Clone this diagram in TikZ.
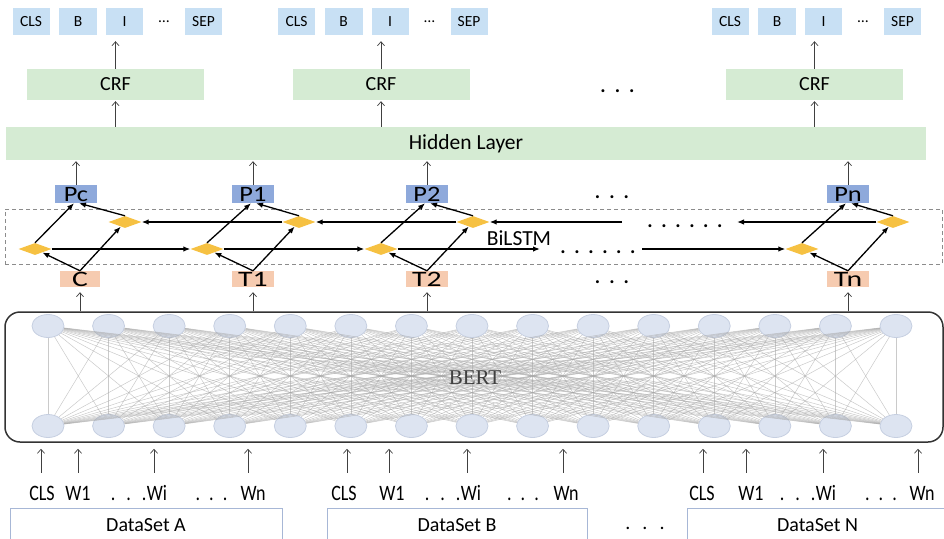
\documentclass[tikz,border=0pt]{standalone}
\usepackage{fontspec}
\setmainfont{Carlito}
\newfontfamily\botfont[FakeStretch=0.82]{Carlito}
\newfontfamily\wtfont[FakeStretch=1.35]{Carlito}
\newfontfamily\wpfont[FakeStretch=1.2]{Carlito}
\newfontfamily\bertfont{Liberation Serif}
\usetikzlibrary{shapes.geometric,arrows.meta}
\definecolor{topblue}{HTML}{C8E0F4}
\definecolor{lgreen}{HTML}{D5EBD3}
\definecolor{pblue}{HTML}{8EA9DB}
\definecolor{tsalmon}{HTML}{F6CBB0}
\definecolor{gold}{HTML}{F6C142}
\definecolor{nfill}{HTML}{DDE4F1}
\definecolor{ndraw}{HTML}{C6CFE1}
\definecolor{dsline}{HTML}{A7B7D6}
\newcommand{\spdots}[1]{.\hspace{#1}.\hspace{#1}.}
\newcommand{\sixdots}[1]{.\hspace{#1}.\hspace{#1}.\hspace{#1}.\hspace{#1}.\hspace{#1}.}
\begin{document}
\begin{tikzpicture}[x=1pt,y=-1pt,
  tlab/.style={fill=topblue, minimum width=37pt, minimum height=27pt, inner sep=0pt, font=\fontsize{15.5}{18}\selectfont},
  gbox/.style={fill=lgreen, inner sep=0pt, font=\fontsize{20}{24}\selectfont},
  pbox/.style={fill=pblue, minimum width=42pt, minimum height=18pt, inner sep=0pt, font=\wpfont\fontsize{22}{24}\selectfont, text height=15pt, text depth=0pt},
  tbox/.style={fill=tsalmon, minimum width=42pt, minimum height=16pt, inner sep=0pt, font=\wtfont\fontsize{22}{24}\selectfont, text height=15pt, text depth=0pt},
  dia/.style={diamond, fill=gold, minimum width=33pt, minimum height=12pt, inner sep=0pt},
  barrow/.style={line width=1.3pt, -{Latex[length=7pt,width=5.5pt]}},
  tarrow/.style={line width=0.7pt, draw=black!75, -{Straight Barb[length=4pt,width=7pt]}},
  blab/.style={font=\botfont\fontsize{22}{24}\selectfont, inner sep=0pt, anchor=base, text height=14pt, text depth=0pt},
  dotf/.style={font=\bfseries\fontsize{20}{24}\selectfont, inner sep=0pt, anchor=base},
  bnode/.style={ellipse, fill=nfill, draw=ndraw, line width=0.8pt, minimum width=32pt, minimum height=23pt, inner sep=0pt},
  bline/.style={draw=black!35, line width=0.5pt, opacity=0.6},
  dsbox/.style={draw=dsline, line width=0.8pt, minimum height=34pt, inner sep=0pt, font=\fontsize{20}{24}\selectfont, text height=13pt, text depth=0pt}
]
\useasboundingbox (0,0) rectangle (944,538);

% top tag rows and CRF
\foreach \s/\o in {A/0,B/265.5,N/699}{
  \node[tlab] (cls\s) at (31+\o,21.5) {CLS};
  \node[tlab, minimum width=38pt] (tagb\s) at (78+\o,21.5) {B};
  \node[tlab] (tagi\s) at (124.5+\o,21.5) {I};
  \node[inner sep=0pt, font=\fontsize{15.5}{18}\selectfont] (ell\s) at (164+\o,21.5) {…};
  \node[tlab] (sep\s) at (203.5+\o,21.5) {SEP};
  \node[gbox, minimum width=177pt, minimum height=31pt] (crf\s) at (115.5+\o,84.5) {CRF};
}
\node[gbox, minimum width=920pt, minimum height=33pt, font=\fontsize{21.5}{24}\selectfont] (hidden) at (466,143.5) {Hidden Layer};
\foreach \s in {A,B,N}{
  \draw[tarrow, shorten >=6pt] (crf\s.north) -- (crf\s.north |- tagi\s.south);
  \draw[tarrow, shorten >=1pt] (crf\s.south |- hidden.north) -- (crf\s.south);
}
\node[dotf] (dcrf) at (617.5,92) {\spdots{9pt}};

% BiLSTM block
\node[draw=black!45, dash pattern=on 4pt off 3pt, line width=1pt, minimum width=937pt, minimum height=55pt, inner sep=0pt] (lstmbox) at (473.5,236.5) {};
\node[pbox] (pC) at (76,194) {Pc};
\node[pbox] (p1) at (253,194) {P1};
\node[pbox] (p2) at (427,194) {P2};
\node[pbox] (pN) at (848,194) {Pn};
\node[tbox, minimum width=40pt] (tkC) at (80,279) {C};
\node[tbox] (tk1) at (253,279) {T1};
\node[tbox] (tk2) at (427,279) {T2};
\node[tbox] (tkN) at (848,279) {Tn};
\node[dia] (dlC) at (35,249) {};
\node[dia] (duC) at (125,222) {};
\node[dia] (dl1) at (207,249) {};
\node[dia] (du1) at (299,222) {};
\node[dia] (dl2) at (381,249) {};
\node[dia] (du2) at (473,222) {};
\node[dia] (dlN) at (802,249) {};
\node[dia] (duN) at (893,222) {};
\node[font=\fontsize{21.5}{24}\selectfont, inner sep=0pt] (bilstm) at (519,238) {BiLSTM};
\node[dotf] (dpr) at (612,198) {\spdots{9pt}};
\node[dotf] (dtr) at (612,283) {\spdots{9pt}};
\node[dotf] (dlow) at (598,253) {\sixdots{8.6pt}};
\node[dotf] (dup) at (685,227) {\sixdots{8.6pt}};

\foreach \p in {pC,p1,p2,pN}{
  \draw[tarrow, shorten >=1pt] (\p.north) -- (\p.north |- hidden.south);
}
\foreach \k in {C,1,2,N}{
  \draw[barrow] (tk\k.north) -- (dl\k);
  \draw[barrow] (tk\k.north) -- (du\k);
  \draw[barrow] (dl\k.north) -- ([xshift=-2pt]p\k.south);
  \draw[barrow] (du\k.north) -- ([xshift=3pt]p\k.south);
}
\coordinate (lend) at (540,249);
\coordinate (lstart) at (642,249);
\coordinate (uend) at (737,222);
\coordinate (ustart) at (622,222);
\draw[barrow] (dlC.east) -- (dl1.west);
\draw[barrow] (dl1.east) -- (dl2.west);
\draw[barrow] (dl2.east) -- (lend);
\draw[barrow] (lstart) -- (dlN.west);
\draw[barrow] (duN.west) -- (uend);
\draw[barrow] (ustart) -- (du2.east);
\draw[barrow] (du2.west) -- (du1.east);
\draw[barrow] (du1.west) -- (duC.east);

% BERT
\node[draw=black!80, line width=1.5pt, rounded corners=15pt, minimum width=938pt, minimum height=130pt, inner sep=0pt] (bert) at (474,377) {};
\foreach \i in {1,...,15}{
  \node[bnode] (bt\i) at ({48+(\i-1)*60.57},326) {};
  \node[bnode] (bb\i) at ({48+(\i-1)*60.57},426) {};
}
\foreach \i in {1,...,15}{\foreach \j in {1,...,15}{\draw[bline] (bt\i) -- (bb\j);}}
\node[font=\bertfont\fontsize{21}{24}\selectfont, text=black!75, inner sep=0pt] (bertlbl) at (475,378) {BERT};
\foreach \k in {C,1,2,N}{
  \draw[tarrow, shorten >=5pt] (tk\k.south |- bert.north) -- (tk\k.south);
}

% inputs
\node[blab] (clsinA) at (42,500) {CLS};
\node[blab] (w1A) at (78,500) {W1};
\node[blab] (wiA) at (157,500) {Wi};
\node[blab, anchor=base east] (wdA) at (wiA.base west) {\spdots{11pt}};
\node[blab] (ndA) at (211.5,500) {\spdots{9pt}};
\node[blab] (wnA) at (253,500) {Wn};
\node[blab] (clsinB) at (344,500) {CLS};
\node[blab] (w1B) at (392,500) {W1};
\node[blab] (wiB) at (471,500) {Wi};
\node[blab, anchor=base east] (wdB) at (wiB.base west) {\spdots{11pt}};
\node[blab] (ndB) at (523,500) {\spdots{9pt}};
\node[blab] (wnB) at (566,500) {Wn};
\node[blab] (clsinN) at (702,500) {CLS};
\node[blab] (w1N) at (751,500) {W1};
\node[blab] (wiN) at (826,500) {Wi};
\node[blab, anchor=base east] (wdN) at (wiN.base west) {\spdots{11pt}};
\node[blab] (ndN) at (881,500) {\spdots{9pt}};
\node[blab] (wnN) at (922,500) {Wn};
\foreach \n/\dx in {clsinA/-1, w1A/0, wiA/-3, wnA/-5, clsinB/3, w1B/-3, wiB/-4, wnB/-3, clsinN/1, w1N/-5, wiN/-3, wnN/-4}{
  \draw[tarrow, shorten <=13pt, shorten >=6pt] ([xshift=\dx pt]\n.north) -- ([xshift=\dx pt]\n.north |- bert.south);
}

% datasets
\node[dsbox, minimum width=272pt] (dsA) at (146,525) {DataSet A};
\node[dsbox, minimum width=260pt] (dsB) at (457,525) {DataSet B};
\node[dsbox, minimum width=261pt] (dsN) at (817.5,525) {DataSet N};
\node[font=\fontsize{20}{24}\selectfont, inner sep=0pt, anchor=base] (dds) at (645,529) {\spdots{12pt}};
\end{tikzpicture}
\end{document}
